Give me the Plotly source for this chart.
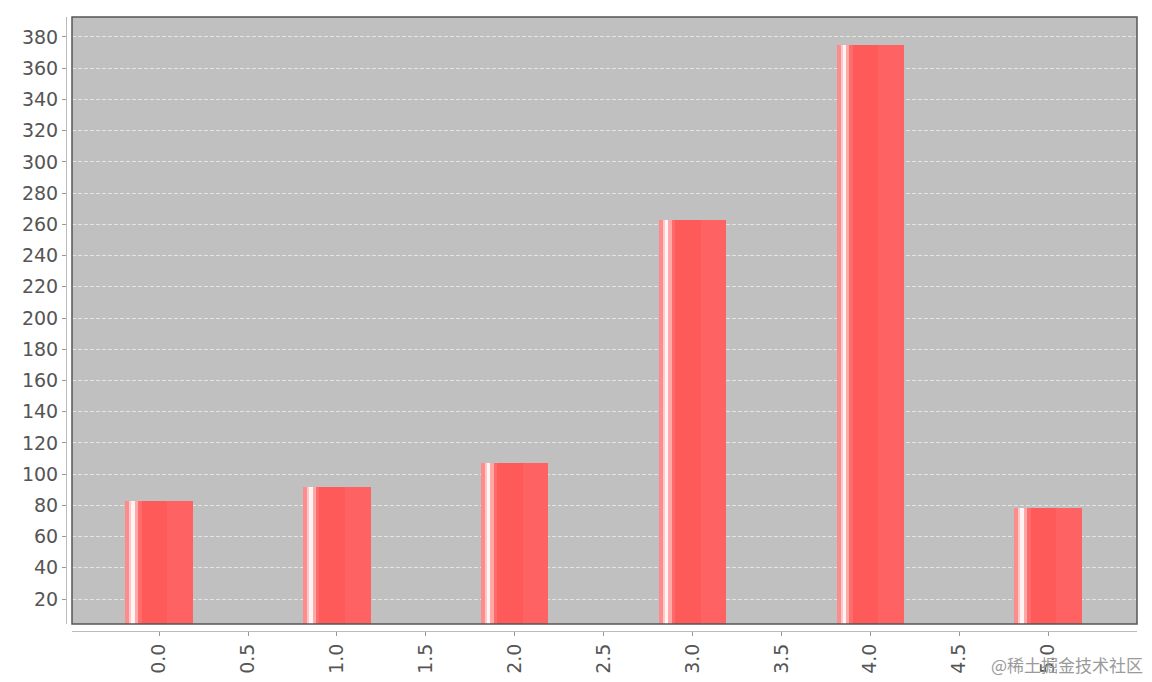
import plotly.graph_objects as go

# ---- data ----
x_values = [0, 1, 2, 3, 4, 5]
y_values = [83, 92, 107, 263, 375, 78]
x_tick_vals = [0.0, 0.5, 1.0, 1.5, 2.0, 2.5, 3.0, 3.5, 4.0, 4.5, 5.0]
x_tick_text = ["0.0", "0.5", "1.0", "1.5", "2.0", "2.5", "3.0", "3.5", "4.0", "4.5", "5.0"]
y_tick_vals = list(range(20, 381, 20))
watermark = "@稀土掘金技术社区"

# ---- style ----
BAR_W = 0.38
# (start fraction, end fraction, colour) strips emulating the gradient painter
strips = [
    (0.00, 1.00, "#FF5A5A"),
    (0.00, 0.06, "#FF8C8C"),
    (0.06, 0.09, "#FFC8C8"),
    (0.09, 0.14, "#FFF4F4"),
    (0.14, 0.19, "#FFA8A8"),
    (0.19, 0.24, "#FF6A6A"),
    (0.62, 1.00, "#FF6262"),
]

fig = go.Figure()
for s, e, c in strips:
    fig.add_trace(go.Bar(
        x=x_values, y=y_values, base=0,
        width=BAR_W * (e - s), offset=-BAR_W / 2 + BAR_W * s,
        marker=dict(color=c, line=dict(width=0)),
        hoverinfo="skip", showlegend=False,
    ))

# page body has an 8px margin, so the figure is drawn 8px smaller
W, H = 1144, 674
ml, mr, mt, mb = 58, 15, 9, 51
pw = W - ml - mr
ph = H - mt - mb
gap_x = 6 / pw
gap_y = 7 / ph

fig.update_layout(
    width=W, height=H,
    margin=dict(l=ml, r=mr, t=mt, b=mb, pad=0, autoexpand=False),
    paper_bgcolor="white",
    plot_bgcolor="#C0C0C0",
    barmode="overlay",
    bargap=0,
    font=dict(family="DejaVu Sans", size=19, color="#555555"),
    xaxis=dict(
        domain=[gap_x, 1], anchor="free", position=0,
        range=[-0.49, 5.5], automargin=False,
        tickmode="array", tickvals=x_tick_vals, ticktext=x_tick_text,
        tickangle=-90, ticks="outside", ticklen=4, tickcolor="#999999",
        showline=True, linecolor="#BBBBBB", linewidth=1,
        showgrid=False, zeroline=False,
        tickfont=dict(size=19, color="#555555"),
    ),
    yaxis=dict(
        domain=[gap_y, 1], anchor="free", position=0,
        range=[4, 392.8], automargin=False,
        tickmode="array", tickvals=y_tick_vals,
        ticks="outside", ticklen=4, tickcolor="#999999",
        showline=True, linecolor="#BBBBBB", linewidth=1,
        showgrid=True, gridcolor="#E4E4E4", griddash="4px,2px", gridwidth=1,
        zeroline=False,
        tickfont=dict(size=19, color="#555555"),
    ),
    shapes=[dict(type="rect", xref="x domain", yref="y domain",
                 x0=0, x1=1, y0=0, y1=1,
                 line=dict(color="#555555", width=1.5), layer="above")],
    annotations=[dict(text=watermark, xref="paper", yref="paper",
                      x=1 + 8 / pw, y=-0.055, xanchor="right", yanchor="middle",
                      showarrow=False,
                      font=dict(family="Noto Sans CJK SC", size=17, color="#9A9A9A"))],
)

fig.write_html("out.html")
